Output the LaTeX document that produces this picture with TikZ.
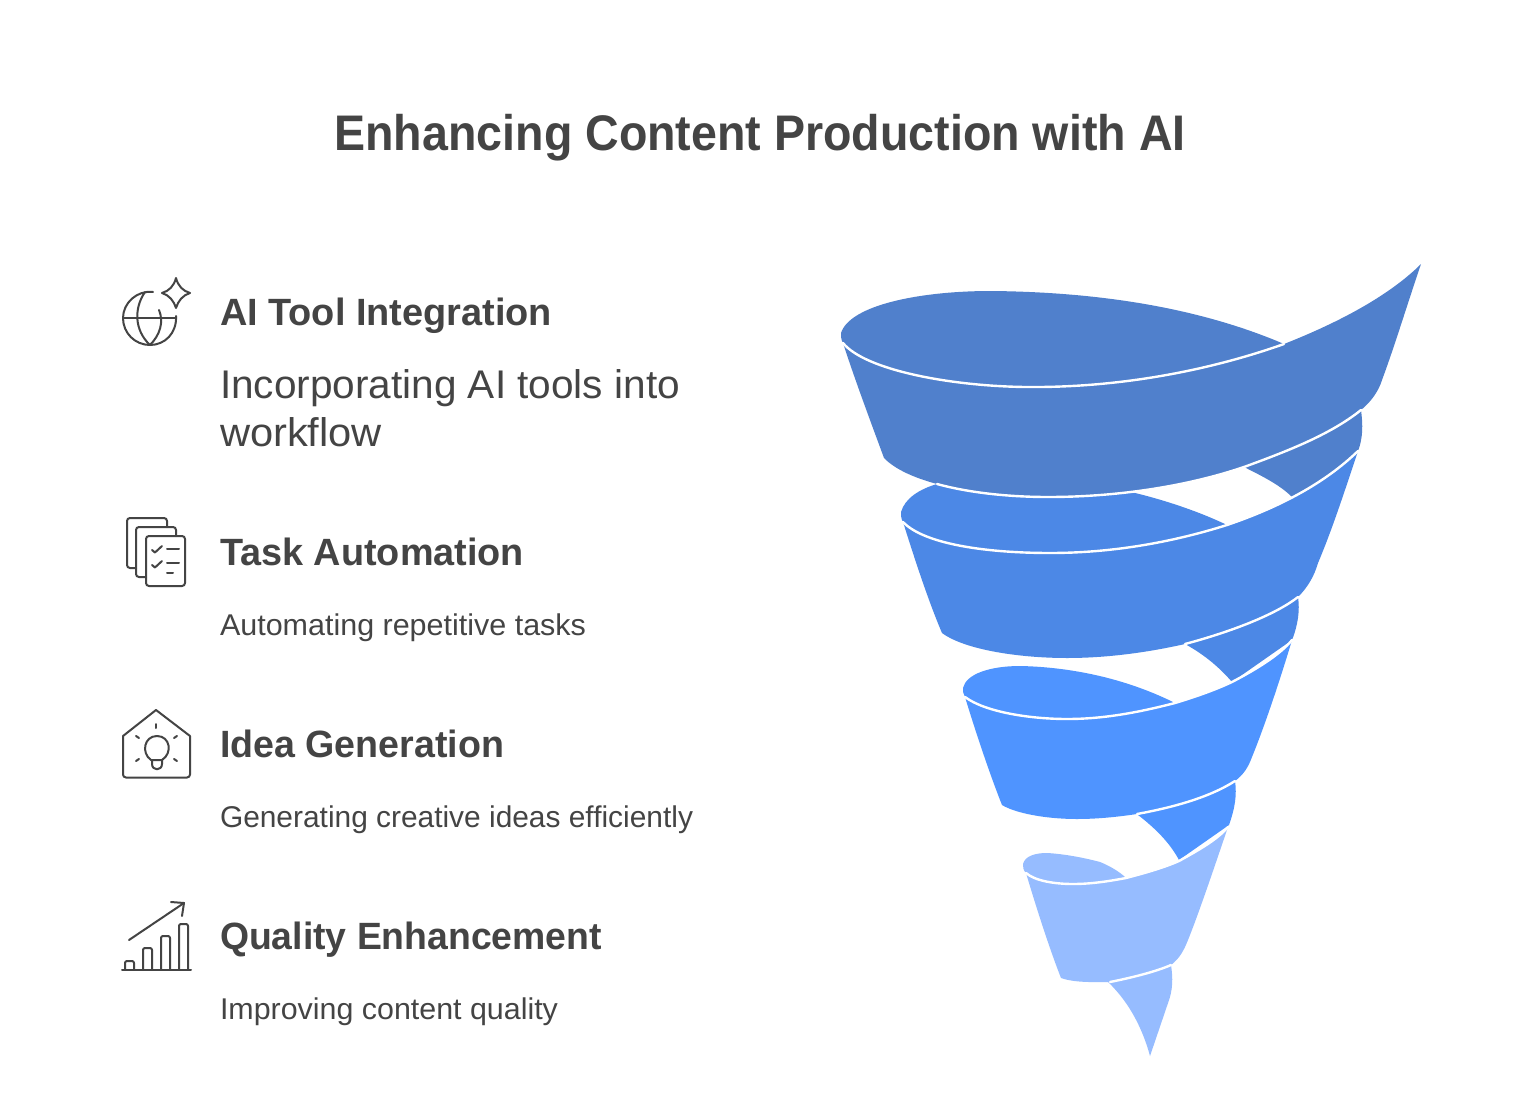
\documentclass[tikz,border=0pt]{standalone}
\usepackage{fontspec}
\usepackage{graphicx}
\setmainfont{Liberation Sans}
\newlength\pxu \pxu=0.75pt
\newcommand{\fitw}[3]{\fontsize{#2\pxu}{#2\pxu}\selectfont\resizebox{#1\pxu}{\height}{#3}}
\definecolor{ink}{HTML}{444444}
\definecolor{bandA}{HTML}{5080CC}
\definecolor{bandB}{HTML}{4C88E6}
\definecolor{bandC}{HTML}{4F94FF}
\definecolor{bandD}{HTML}{96BCFF}
\tikzset{
 txt/.style={anchor=base west,inner sep=0pt,outer sep=0pt,text=ink},
 titletxt/.style={anchor=base,inner sep=0pt,outer sep=0pt,text=ink,font=\bfseries},
 headtxt/.style={txt,font=\bfseries},
 icon/.style={draw=ink,line width=2\pxu,line cap=round,line join=round,fill=none},
 edge/.style={draw=white,line width=2.4\pxu,line cap=round,fill=none}
}
\begin{document}
\begin{tikzpicture}[x=0.75pt,y=-0.75pt]
\useasboundingbox[fill=white] (0,0) rectangle (1520,1120);
% text
\node[titletxt] (title) at (760,151) {\fitw{851}{50}{Enhancing Content Production with AI}};
\node[headtxt] (h1) at (220,325) {\fitw{332}{38}{AI Tool Integration}};
\node[txt] (d1a) at (220,398) {\fitw{460}{40}{Incorporating AI tools into}};
\node[txt] (d1b) at (220,446) {\fitw{162}{40}{workflow}};
\node[headtxt] (h2) at (220,565) {\fitw{304}{38}{Task Automation}};
\node[txt] (d2) at (220,635) {\fitw{366}{30}{Automating repetitive tasks}};
\node[headtxt] (h3) at (220,757) {\fitw{284}{38}{Idea Generation}};
\node[txt] (d3) at (220,827) {\fitw{473}{30}{Generating creative ideas efficiently}};
\node[headtxt] (h4) at (220,949) {\fitw{382}{38}{Quality Enhancement}};
\node[txt] (d4) at (220,1019) {\fitw{338}{30}{Improving content quality}};
% globe icon
\draw[icon] (153,292) .. controls (137,290) and (123,303) .. (123,318) .. controls (123,333) and (135,345) .. (150,345) .. controls (165,345) and (177,333) .. (176,316);
\draw[icon] (123,318) -- (176,318);
\draw[icon] (145,292) .. controls (134,308) and (134,330) .. (150,345) .. controls (160,335) and (164,322) .. (159,310);
\draw[icon] (176,278) .. controls (178,286) and (183,291) .. (190,293) .. controls (183,295) and (178,301) .. (176,308) .. controls (174,301) and (169,295) .. (162,293) .. controls (169,291) and (174,286) .. (176,278) -- cycle;
% documents icon
\draw[icon,rounded corners=2.2] (136,568) -- (127,568) -- (127,518) -- (167,518) -- (167,527);
\draw[icon,rounded corners=2.2] (146,577) -- (136,577) -- (136,527) -- (176,527) -- (176,536);
\draw[icon,rounded corners=2.2] (146,536) rectangle (185,586);
\draw[icon] (152,550) -- (155,552.5) -- (162,546);
\draw[icon] (152,565) -- (155,567.5) -- (162,561);
\draw[icon] (167,549) -- (179,549);
\draw[icon] (167,563) -- (179,563);
\draw[icon] (167,573) -- (173,573);
% house icon
\draw[icon,rounded corners=2.2] (123,736) -- (123,777.5) -- (190,777.5) -- (190,736);
\draw[icon] (123,736) -- (156,710) -- (190,736);
\draw[icon] (151,760) .. controls (141,753) and (144,736) .. (157,736) .. controls (170,736) and (173,753) .. (162,760) -- cycle;
\draw[icon] (152,760) -- (152,764) .. controls (152,771) and (162,771) .. (162,764) -- (162,760);
\draw[icon] (156,724) -- (156,728);
\draw[icon] (136,736) -- (139,738);
\draw[icon] (177,736) -- (174,738);
\draw[icon] (136,761) -- (139,759);
\draw[icon] (177,761) -- (174,759);
% chart icon
\draw[icon] (122,969.5) -- (191,969.5);
\draw[icon,rounded corners=1.5] (125,969) -- (125,961) -- (134,961) -- (134,969);
\draw[icon,rounded corners=1.5] (143,969) -- (143,948) -- (152,948) -- (152,969);
\draw[icon,rounded corners=1.5] (161,969) -- (161,936) -- (170,936) -- (170,969);
\draw[icon,rounded corners=1.5] (179,969) -- (179,924) -- (188,924) -- (188,969);
\draw[icon] (129,940) -- (184,903);
\draw[icon] (171,902) -- (184,903) -- (182,916);
% funnel: tail and band 4
\fill[bandD] (1171,965) .. controls (1173,978) and (1173,990) .. (1168,1003) -- (1150,1056) .. controls (1143,1030) and (1130,1003) .. (1108,982) -- cycle;
\fill[bandC] (1235,781) .. controls (1237,795) and (1235,808) .. (1229,825) -- (1179,860) .. controls (1170,843) and (1155,828) .. (1138,815) -- cycle;
\fill[bandD] (1026,873) .. controls (1023,870) and (1023,867) .. (1023,864) .. controls (1025,856) and (1035,853) .. (1047,853) .. controls (1065,854) and (1085,858) .. (1100,862) .. controls (1110,866) and (1120,872) .. (1126,878) .. controls (1110,881) and (1092,884) .. (1073,884) .. controls (1055,884) and (1035,881) .. (1026,873) -- cycle;
\fill[bandD] (1026,873) .. controls (1035,881) and (1055,884) .. (1073,884) .. controls (1092,884) and (1110,881) .. (1126,878) .. controls (1145,873) and (1163,868) .. (1179,861) .. controls (1197,851) and (1217,840) .. (1228,827) .. controls (1215,865) and (1200,910) .. (1188,940) .. controls (1184,950) and (1180,958) .. (1171,965) .. controls (1155,972) and (1130,978) .. (1110,982) .. controls (1095,982) and (1075,983) .. (1061,978) .. controls (1050,950) and (1037,910) .. (1026,873) -- cycle;
\path[edge] (1026,873) .. controls (1035,881) and (1055,884) .. (1073,884) .. controls (1092,884) and (1110,881) .. (1126,878) .. controls (1145,873) and (1163,868) .. (1179,861) .. controls (1197,851) and (1217,840) .. (1228,827);
\path[edge] (1171,965) .. controls (1155,972) and (1130,978) .. (1110,982);
% band 3
\fill[bandB] (1298,597) .. controls (1300,610) and (1298,625) .. (1292,640) -- (1232,682) .. controls (1220,668) and (1205,655) .. (1185,644) -- cycle;
\fill[bandC] (965,697) .. controls (963,694) and (963,691) .. (963,688) .. controls (966,674) and (990,666) .. (1020,666) .. controls (1070,667) and (1125,678) .. (1175,703) .. controls (1140,712) and (1105,719) .. (1067,719) .. controls (1030,719) and (985,712) .. (965,697) -- cycle;
\fill[bandC] (965,697) .. controls (985,712) and (1030,719) .. (1067,719) .. controls (1105,719) and (1140,712) .. (1175,703) .. controls (1195,697) and (1215,690) .. (1232,682) .. controls (1255,670) and (1280,655) .. (1292,640) .. controls (1280,680) and (1265,725) .. (1252,757) .. controls (1248,768) and (1243,775) .. (1235,781) .. controls (1210,797) and (1175,807) .. (1137,814) .. controls (1117,817) and (1097,819) .. (1077,819) .. controls (1045,819) and (1015,813) .. (1002,805) .. controls (990,775) and (975,730) .. (965,697) -- cycle;
\path[edge] (965,697) .. controls (985,712) and (1030,719) .. (1067,719) .. controls (1105,719) and (1140,712) .. (1175,703) .. controls (1195,697) and (1215,690) .. (1232,682) .. controls (1255,670) and (1280,655) .. (1292,640);
\path[edge] (1235,781) .. controls (1210,797) and (1175,807) .. (1137,814);
% band 2
\fill[bandA] (1361,410) .. controls (1363,425) and (1363,438) .. (1358,451) .. controls (1340,470) and (1315,485) .. (1292,497) .. controls (1280,485) and (1262,476) .. (1244,467) -- cycle;
\fill[bandB] (903,522) .. controls (901,519) and (901,515) .. (901,512) .. controls (905,498) and (920,489) .. (937,484) -- (1131,492) .. controls (1165,500) and (1200,512) .. (1227,525) .. controls (1170,543) and (1110,553) .. (1050,553) .. controls (990,553) and (925,545) .. (903,522) -- cycle;
\fill[bandB] (903,522) .. controls (925,545) and (990,553) .. (1050,553) .. controls (1110,553) and (1170,543) .. (1227,525) .. controls (1280,507) and (1325,483) .. (1358,451) .. controls (1345,490) and (1332,530) .. (1318,563) .. controls (1314,577) and (1307,588) .. (1298,597) .. controls (1275,615) and (1230,632) .. (1185,644) .. controls (1145,653) and (1105,658) .. (1067,658) .. controls (1020,658) and (965,650) .. (942,633) .. controls (928,600) and (915,560) .. (903,522) -- cycle;
\path[edge] (903,522) .. controls (925,545) and (990,553) .. (1050,553) .. controls (1110,553) and (1170,543) .. (1227,525) .. controls (1280,507) and (1325,483) .. (1358,451);
\path[edge] (1298,597) .. controls (1275,615) and (1230,632) .. (1185,644);
% band 1
\fill[bandA] (843,343) .. controls (841,340) and (841,336) .. (841,333) .. controls (850,305) and (920,291) .. (991,291) .. controls (1100,292) and (1200,308) .. (1284,344) .. controls (1205,372) and (1115,388) .. (1025,387) .. controls (950,386) and (865,370) .. (843,343) -- cycle;
\fill[bandA] (843,343) .. controls (865,370) and (950,386) .. (1025,387) .. controls (1115,388) and (1205,372) .. (1284,344) .. controls (1340,322) and (1390,295) .. (1421,264) .. controls (1407,305) and (1395,345) .. (1382,380) .. controls (1379,390) and (1372,401) .. (1361,410) .. controls (1330,435) and (1285,452) .. (1244,467) .. controls (1185,487) and (1115,497) .. (1048,497) .. controls (985,497) and (910,485) .. (884,458) .. controls (870,420) and (855,380) .. (843,343) -- cycle;
\path[edge] (843,343) .. controls (865,370) and (950,386) .. (1025,387) .. controls (1115,388) and (1205,372) .. (1284,344);
\path[edge] (1361,410) .. controls (1330,435) and (1285,452) .. (1244,467) .. controls (1185,487) and (1115,497) .. (1048,497) .. controls (1010,497) and (970,493) .. (937,484);
\end{tikzpicture}
\end{document}
